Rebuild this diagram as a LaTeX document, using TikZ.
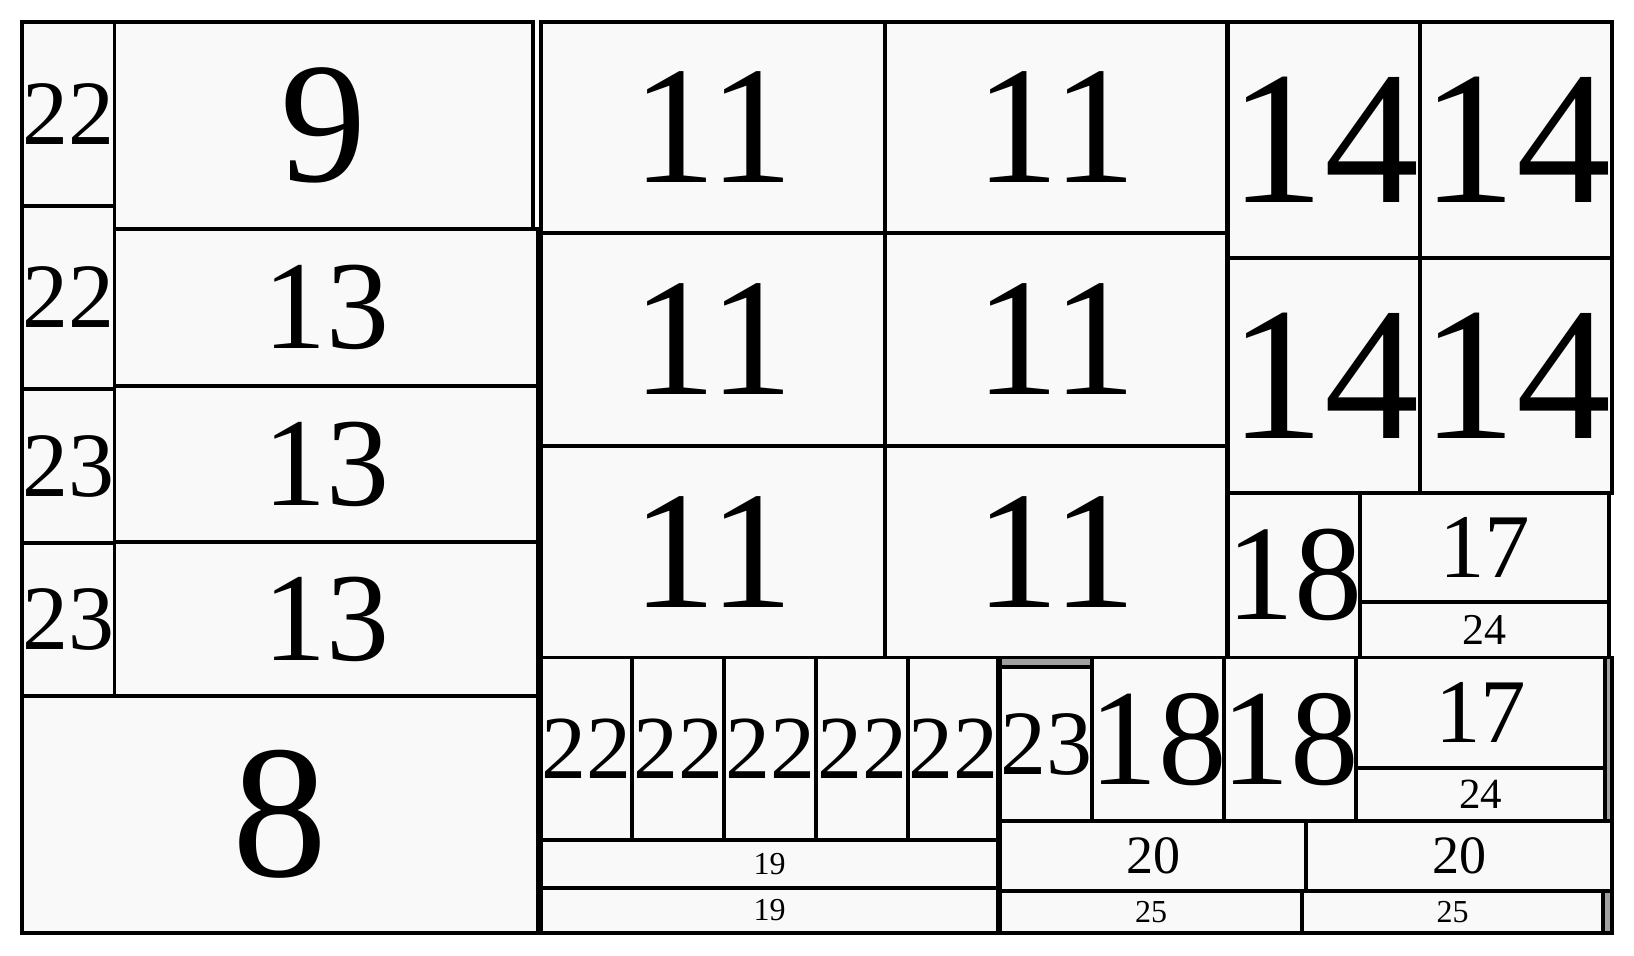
\documentclass[tikz,border=0pt]{standalone}
\usepackage{fontspec}
\setmainfont{Liberation Serif}
\definecolor{cellgray}{HTML}{F9F9F9}
\definecolor{stripgray}{HTML}{A0A0A0}
\tikzset{
  cellbox/.style={draw=black, fill=cellgray, line width=1.8pt, inner sep=0pt, outer sep=0pt, rectangle, anchor=center},
  greybox/.style={cellbox, fill=stripgray},
  lbl/.style={inner sep=0pt, outer sep=0pt, text=black, anchor=center},
}
% name, x1, y1, x2, y2, font size (pt), text
\newcommand{\tmcell}[7]{%
  \node[cellbox, minimum width={(#4-#2)*0.5pt}, minimum height={(#5-#3)*0.5pt}] (#1) at ({(#2+#4)/2},{(#3+#5)/2}) {};
  \node[lbl, font=\fontsize{#6}{#6}\selectfont] (#1t) at (#1.center) {#7};
}
\newcommand{\tmstrip}[5]{%
  \node[greybox, minimum width={(#4-#2)*0.5pt}, minimum height={(#5-#3)*0.5pt}] (#1) at ({(#2+#4)/2},{(#3+#5)/2}) {};
}
\begin{document}
\begin{tikzpicture}[x=0.5pt, y=-0.5pt]
\useasboundingbox[fill=white] (0,0) rectangle (1634,956);
% left block
\tmcell{a1}{22}{22}{114.6}{206}{46}{22}
\tmcell{a2}{22}{206}{114.6}{389}{46}{22}
\tmcell{a3}{22}{389}{114.6}{543}{46}{23}
\tmcell{a4}{22}{543}{114.6}{696}{46}{23}
\tmcell{b1}{114.6}{22}{533}{229}{86}{9}
\tmcell{b2}{114.6}{229}{538}{386}{63}{13}
\tmcell{b3}{114.6}{386}{538}{542}{63}{13}
\tmcell{b4}{114.6}{542}{538}{696}{63}{13}
\tmcell{c1}{22}{696}{538}{933}{95}{8}
% 11 grid
\tmcell{e1}{541}{22}{885}{233}{84}{11}
\tmcell{e2}{885}{22}{1227}{233}{84}{11}
\tmcell{e3}{541}{233}{885}{446}{84}{11}
\tmcell{e4}{885}{233}{1227}{446}{84}{11}
\tmcell{e5}{541}{446}{885}{657.5}{84}{11}
\tmcell{e6}{885}{446}{1227}{657.5}{84}{11}
% bottom middle
\tmcell{f1}{541}{657.5}{632}{840}{45}{22}
\tmcell{f2}{632}{657.5}{724}{840}{45}{22}
\tmcell{f3}{724}{657.5}{816}{840}{45}{22}
\tmcell{f4}{816}{657.5}{908}{840}{45}{22}
\tmcell{f5}{908}{657.5}{998}{840}{45}{22}
\tmcell{g1}{541}{840}{998}{888}{16}{19}
\tmcell{g2}{541}{888}{998}{933}{16}{19}
\tmstrip{h0}{1000}{657.5}{1092}{667}
\tmcell{h1}{1000}{667}{1092}{821}{46}{23}
\tmcell{h2}{1092}{657.5}{1224}{821}{68.5}{18}
\tmcell{h3}{1224}{657.5}{1356}{821}{68.5}{18}
\tmcell{h4}{1356}{657.5}{1605}{768}{45.5}{17}
\tmcell{h5}{1356}{768}{1605}{821}{21.5}{24}
\tmstrip{h6}{1605}{657.5}{1612}{821}
\tmcell{k1}{1000}{821}{1306}{891}{27}{20}
\tmcell{k2}{1306}{821}{1612}{891}{27}{20}
\tmcell{k3}{1000}{891}{1302}{933}{16}{25}
\tmcell{k4}{1302}{891}{1603}{933}{16}{25}
\tmstrip{k5}{1603}{891}{1612}{933}
% right block
\tmcell{m1}{1228}{22}{1420}{258}{95}{14}
\tmcell{m2}{1420}{22}{1612}{258}{95}{14}
\tmcell{m3}{1228}{258}{1420}{493}{95}{14}
\tmcell{m4}{1420}{258}{1612}{493}{95}{14}
\tmcell{n1}{1228}{493}{1360}{657.5}{68}{18}
\tmcell{n2}{1360}{493}{1609}{602}{45.5}{17}
\tmcell{n3}{1360}{602}{1609}{657.5}{22}{24}
\end{tikzpicture}
\end{document}
